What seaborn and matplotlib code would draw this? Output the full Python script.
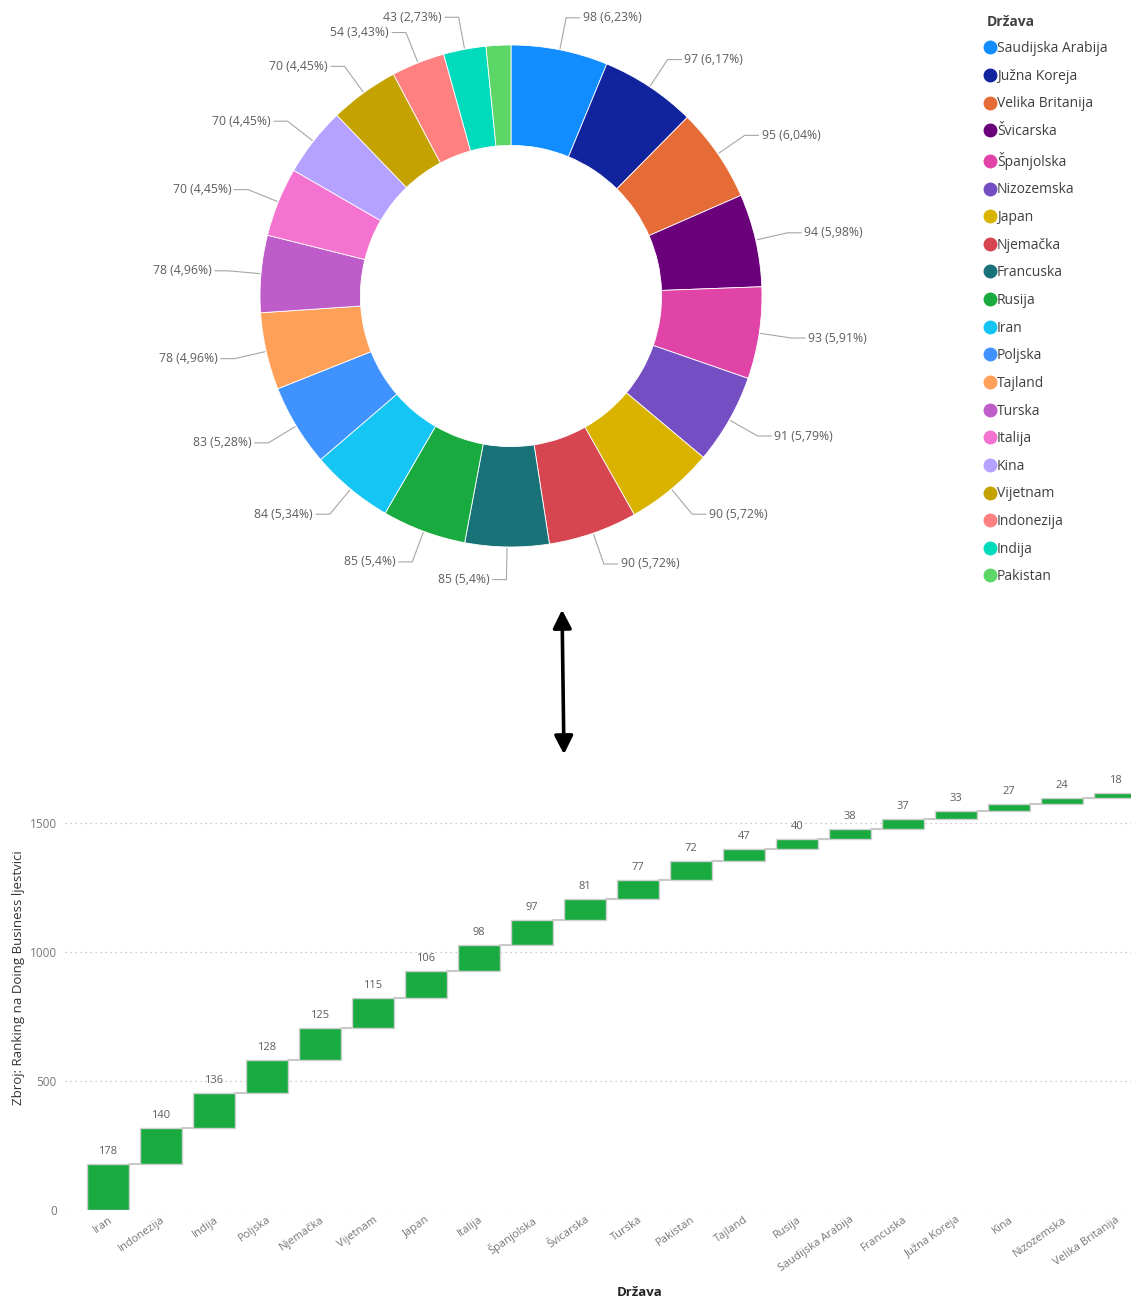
import numpy as np
import pandas as pd
import seaborn as sns
import matplotlib.pyplot as plt
from matplotlib.lines import Line2D
from matplotlib.patches import FancyArrowPatch

# donut data (clockwise from top)
pie_countries = ['Saudijska Arabija', 'Južna Koreja', 'Velika Britanija', 'Švicarska',
                 'Španjolska', 'Nizozemska', 'Japan', 'Njemačka', 'Francuska', 'Rusija',
                 'Iran', 'Poljska', 'Tajland', 'Turska', 'Italija', 'Kina', 'Vijetnam',
                 'Indonezija', 'Indija', 'Pakistan']
pie_values = [98, 97, 95, 94, 93, 91, 90, 90, 85, 85, 84, 83, 78, 78, 70, 70, 70, 54, 43, 25]
pie_colors = ['#118DFF', '#12239E', '#E66C37', '#6B007B', '#E044A7', '#744EC2', '#D9B300',
              '#D64550', '#197278', '#1AAB40', '#15C6F4', '#4092FF', '#FFA058', '#BE5DC9',
              '#F472D0', '#B5A1FF', '#C4A200', '#FF8080', '#00DBBC', '#5BD667']

# waterfall data
wf_countries = ['Iran', 'Indonezija', 'Indija', 'Poljska', 'Njemačka', 'Vijetnam', 'Japan',
                'Italija', 'Španjolska', 'Švicarska', 'Turska', 'Pakistan', 'Tajland', 'Rusija',
                'Saudijska Arabija', 'Francuska', 'Južna Koreja', 'Kina', 'Nizozemska',
                'Velika Britanija']
wf_values = [178, 140, 136, 128, 125, 115, 106, 98, 97, 81, 77, 72, 47, 40, 38, 37, 33, 27, 24, 18]
y_ticks = [0, 500, 1000, 1500]

sns.set_theme(style='white')
plt.rcParams['font.family'] = ['Open Sans', 'DejaVu Sans']

W, H = 1131, 1299
fig = plt.figure(figsize=(W / 100, H / 100), dpi=100)

# ---------- donut ----------
R_PX = 251
cx, cy = 511, 296
side = 760
ax1 = fig.add_axes([(cx - side / 2) / W, (H - cy - side / 2) / H, side / W, side / H])
wedges, _ = ax1.pie(pie_values, colors=pie_colors, startangle=90, counterclock=False,
                    radius=1, wedgeprops=dict(width=0.4, edgecolor='white', linewidth=0.6))
lim = side / 2 / R_PX
ax1.set_xlim(-lim, lim)
ax1.set_ylim(-lim, lim)
ax1.set_aspect('equal')
ax1.set_axis_off()

total = sum(pie_values)
for w, v in zip(wedges, pie_values):
    if v < 30:
        continue
    ang = np.deg2rad((w.theta1 + w.theta2) / 2)
    c, s = np.cos(ang), np.sin(ang)
    sign = 1 if c >= 0 else -1
    x0, y0 = 1.005 * c, 1.005 * s
    xe, ye = 1.13 * c, 1.13 * s
    xh = xe + sign * 0.055
    ax1.plot([x0, xe, xh], [y0, ye, ye], color='#a6a6a6', lw=0.8, clip_on=False)
    pct = f'{v / total * 100:.2f}'.rstrip('0').rstrip('.').replace('.', ',')
    ax1.text(xh + sign * 0.012, ye, f'{v} ({pct}%)', ha='left' if sign > 0 else 'right',
             va='center', fontsize=8.8, color='#605E5C')

handles = [Line2D([], [], marker='o', ls='', markersize=9, markerfacecolor=c,
                  markeredgecolor=c) for c in pie_colors]
leg = fig.legend(handles, pie_countries, title='Država', loc='upper left',
                 bbox_to_anchor=(981 / W, 1 - 9 / H), frameon=False, alignment='left',
                 handlelength=0.55, handletextpad=0.2, labelspacing=0.91, fontsize=10,
                 title_fontproperties={'weight': 'bold', 'size': 10}, borderaxespad=0)
for t in leg.get_texts():
    t.set_color('#404040')
leg.get_title().set_color('#404040')

# ---------- arrow ----------
arrow = FancyArrowPatch((562 / W, 1 - 607 / H), (564 / W, 1 - 757 / H),
                        transform=fig.transFigure,
                        arrowstyle='<|-|>,head_length=0.55,head_width=0.28',
                        mutation_scale=20, lw=2.6, color='black')
fig.patches.append(arrow)

# ---------- waterfall ----------
df = pd.DataFrame({'Država': wf_countries, 'value': wf_values})
df['end'] = df['value'].cumsum()
df['start'] = df['end'] - df['value']

ax2 = fig.add_axes([65 / W, 89 / H, (W - 65) / W, 430 / H])
sns.barplot(data=df, x='Država', y='value', order=wf_countries, bottom=df['start'].values,
            color='#1AAB40', saturation=1, width=0.79, edgecolor='#cfcfcf', linewidth=1,
            ax=ax2, zorder=3)

bw = 0.79
for i in range(len(df) - 1):
    ax2.plot([i + bw / 2, i + 1 - bw / 2], [df['end'][i]] * 2, color='#c8c8c8', lw=1.5,
             zorder=2)
for i, row in df.iterrows():
    ax2.annotate(str(row['value']), (i, row['end']), xytext=(0, 5),
                 textcoords='offset points', ha='center', va='bottom', fontsize=8,
                 color='#605E5C')

ax2.set_xlim(-0.81, 19.3)
ax2.set_ylim(0, 1667)
ax2.set_yticks(y_ticks)
ax2.set_yticklabels([str(t) for t in y_ticks], fontsize=8.5, color='#777777')
ax2.yaxis.grid(True, linestyle=(0, (1, 3)), color='#bbbbbb', lw=0.9)
ax2.set_axisbelow(True)
for sp in ax2.spines.values():
    sp.set_visible(False)
ax2.tick_params(axis='y', length=0, pad=6)
ax2.tick_params(axis='x', length=0, pad=3)
for lbl in ax2.get_xticklabels():
    lbl.set_rotation(35)
    lbl.set_ha('right')
    lbl.set_rotation_mode('anchor')
    lbl.set_fontsize(8)
    lbl.set_color('#777777')
ax2.set_xlabel('')
ax2.set_ylabel('Zbroj: Ranking na Doing Business ljestvici', fontsize=9.5, color='#333333')
ax2.yaxis.set_label_coords(-40 / (W - 65), 0.54)
fig.text(640 / W, 1 - 1293 / H, 'Država', ha='center', va='center', fontsize=9.5,
         color='#252423', weight='bold')

fig.savefig('out.png', dpi=100)
